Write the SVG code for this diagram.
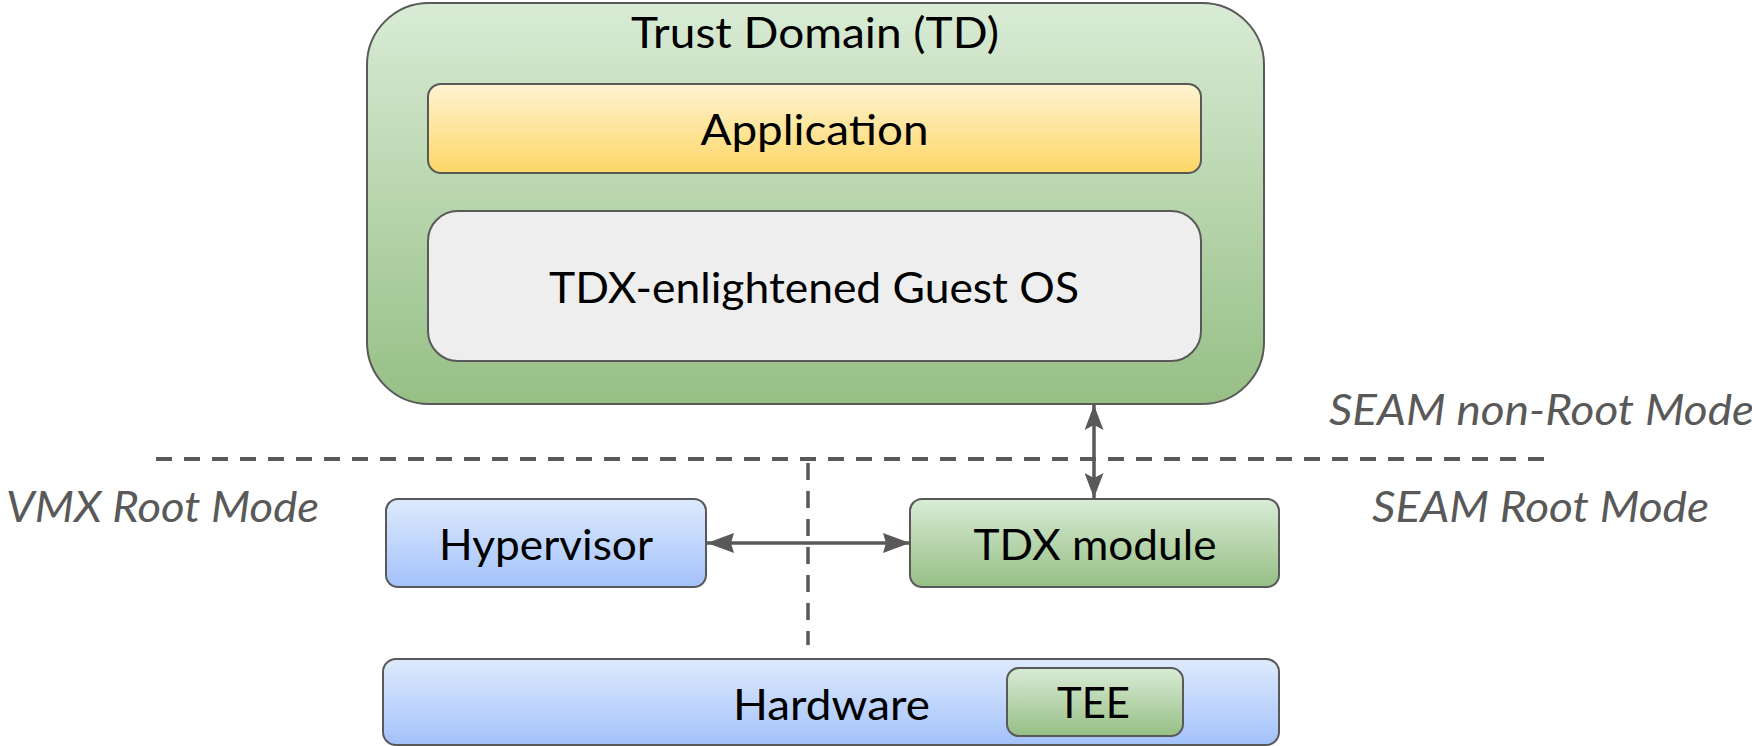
<svg xmlns="http://www.w3.org/2000/svg" width="1752" height="746" viewBox="0 0 1752 746">
  <style>
    .box { stroke: #595959; stroke-width: 2; }
    .lbl { font-family: Lato, "Open Sans", "Liberation Sans", sans-serif; font-size: 43px; fill: #000000; text-anchor: middle; }
    .mode { font-family: Lato, "Open Sans", "Liberation Sans", sans-serif; font-size: 43px; font-style: italic; fill: #595959; }
    .sep { stroke: #595959; fill: none; }
    .conn { stroke: #595959; stroke-width: 3.5; fill: none; }
  </style>
  <defs>
    <linearGradient id="gGreen" x1="0" y1="0" x2="0" y2="1">
      <stop offset="0" stop-color="#d9ebd5"/>
      <stop offset="1" stop-color="#96bf85"/>
    </linearGradient>
    <linearGradient id="gYellow" x1="0" y1="0" x2="0" y2="1">
      <stop offset="0" stop-color="#fff3d2"/>
      <stop offset="1" stop-color="#fdd766"/>
    </linearGradient>
    <linearGradient id="gBlue" x1="0" y1="0" x2="0" y2="1">
      <stop offset="0" stop-color="#deeafd"/>
      <stop offset="1" stop-color="#a3c2fb"/>
    </linearGradient>
    <marker id="arrH" viewBox="0 0 27 20" refX="27" refY="10" markerWidth="27" markerHeight="20" markerUnits="userSpaceOnUse" orient="auto-start-reverse">
      <path d="M0,0 L27,10 L0,20 L3,10 Z" fill="#595959"/>
    </marker>
    <marker id="arrV" viewBox="0 0 25 19" refX="25" refY="9.5" markerWidth="25" markerHeight="19" markerUnits="userSpaceOnUse" orient="auto-start-reverse">
      <path d="M0,0 L25,9.5 L0,19 L5,9.5 Z" fill="#595959"/>
    </marker>
  </defs>

  <g id="td">
    <rect class="box" x="367" y="3" width="897" height="401" rx="62" ry="62" fill="url(#gGreen)"/>
    <text class="lbl" x="815" y="48" textLength="368" lengthAdjust="spacingAndGlyphs">Trust Domain (TD)</text>
  </g>
  <g id="application">
    <rect class="box" x="428" y="84" width="773" height="89" rx="13" ry="13" fill="url(#gYellow)"/>
    <text class="lbl" x="814.5" y="145" textLength="228" lengthAdjust="spacingAndGlyphs">Application</text>
  </g>
  <g id="guest-os">
    <rect class="box" x="428" y="211" width="773" height="150" rx="30" ry="30" fill="#eeeeee"/>
    <text class="lbl" x="814" y="303" textLength="530" lengthAdjust="spacingAndGlyphs">TDX-enlightened Guest OS</text>
  </g>
  <g id="hypervisor">
    <rect class="box" x="386" y="499" width="320" height="88" rx="12" ry="12" fill="url(#gBlue)"/>
    <text class="lbl" x="546" y="560" textLength="214" lengthAdjust="spacingAndGlyphs">Hypervisor</text>
  </g>
  <g id="tdx-module">
    <rect class="box" x="910" y="499" width="369" height="88" rx="12" ry="12" fill="url(#gGreen)"/>
    <text class="lbl" x="1095" y="560" textLength="243" lengthAdjust="spacingAndGlyphs">TDX module</text>
  </g>
  <g id="hardware">
    <rect class="box" x="383" y="659" width="896" height="86" rx="13" ry="13" fill="url(#gBlue)"/>
    <text class="lbl" x="831.5" y="720" textLength="197" lengthAdjust="spacingAndGlyphs">Hardware</text>
  </g>
  <g id="tee">
    <rect class="box" x="1007" y="668" width="176" height="68" rx="12" ry="12" fill="url(#gGreen)"/>
    <text class="lbl" x="1093.5" y="718" textLength="73" lengthAdjust="spacingAndGlyphs">TEE</text>
  </g>

  <g id="mode-labels">
    <text class="mode" x="6" y="522" textLength="313" lengthAdjust="spacingAndGlyphs">VMX Root Mode</text>
    <text class="mode" x="1372" y="522" textLength="337" lengthAdjust="spacingAndGlyphs">SEAM Root Mode</text>
    <text class="mode" x="1329" y="425" textLength="425" lengthAdjust="spacingAndGlyphs">SEAM non-Root Mode</text>
  </g>

  <g id="separators">
    <line class="sep" x1="156" y1="459" x2="1545" y2="459" stroke-width="4" stroke-dasharray="16 12"/>
    <line class="sep" x1="808" y1="463" x2="808" y2="645" stroke-width="3.5" stroke-dasharray="17 11"/>
  </g>

  <g id="connectors">
    <line class="conn" x1="707" y1="543" x2="910" y2="543" marker-start="url(#arrH)" marker-end="url(#arrH)"/>
    <line class="conn" x1="1094" y1="405" x2="1094" y2="498" stroke-width="3" marker-start="url(#arrV)" marker-end="url(#arrV)"/>
  </g>
</svg>
